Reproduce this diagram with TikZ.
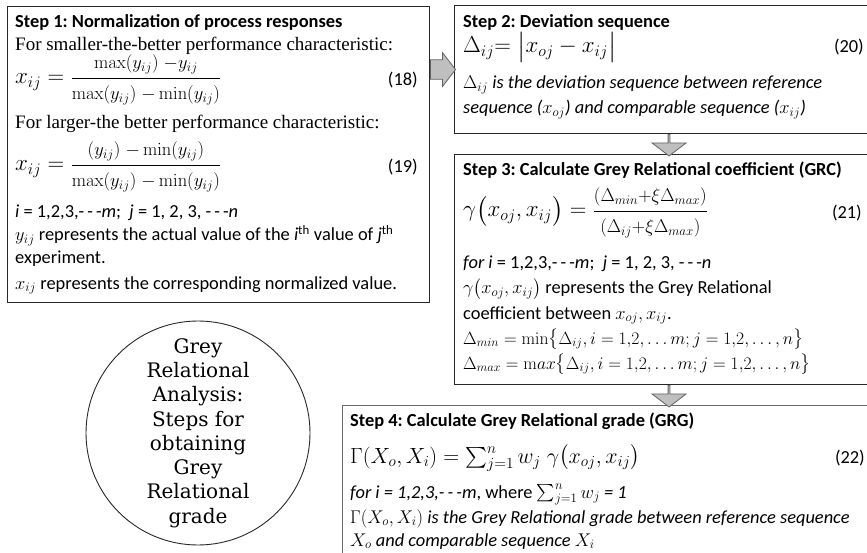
\RequirePackage{fix-cm}
\documentclass[tikz,border=0pt]{standalone}
\usepackage{amsmath}
\usepackage[no-math]{fontspec}
\setmainfont{Carlito}
\newfontfamily\serifface{Liberation Serif}
\newfontfamily\circfont{DejaVu Serif}
\usepackage{tikz}
\usetikzlibrary{positioning, calc, shapes.arrows}
\definecolor{ArrowGrey}{RGB}{191, 191, 191}
\definecolor{ArrowEdge}{RGB}{100, 100, 100}
\definecolor{BoxEdge}{RGB}{40, 40, 40}
\definecolor{BoxEdgeSoft}{RGB}{105, 105, 105}
\frenchspacing

\newcommand{\fracpart}[1]{\mbox{\fontsize{18.5}{22}\selectfont$#1$}}
\newcommand{\dashes}{-\,-\,-}

\tikzset{
  stepbox/.style={draw=BoxEdge, line width=1.1pt, anchor=north west, inner sep=0pt},
  linetext/.style={anchor=base west, inner sep=0pt, font=\fontsize{18.4}{22}\selectfont},
  titletext/.style={linetext, font=\fontsize{18.4}{22}\selectfont\bfseries},
  serifline/.style={linetext, font=\serifface\fontsize{19}{22}\selectfont},
  eqline/.style={linetext, font=\fontsize{23}{26}\selectfont},
  deltaline/.style={linetext, font=\fontsize{17.6}{22}\selectfont},
  eqnumber/.style={anchor=base east, inner sep=0pt, font=\fontsize{18.4}{22}\selectfont},
  blockarrow/.style={single arrow, draw=ArrowEdge, fill=ArrowGrey, line width=0.8pt,
    minimum width=34pt, single arrow head extend=7pt, inner xsep=0pt, inner ysep=9pt,
    single arrow tip angle=105}
}

\begin{document}
\begin{tikzpicture}[x=1pt, y=-1pt]
  \useasboundingbox (0,0) rectangle (867,553);

  % the four steps
  \node[stepbox, minimum width=422pt, minimum height=296pt] (step1) at (7,6) {};
  \node[stepbox, minimum width=418pt, minimum height=128pt] (step2) at (454,5) {};
  \node[stepbox, minimum width=418pt, minimum height=230pt] (step3) at (454,154) {};
  \node[stepbox, draw=BoxEdgeSoft, minimum width=530pt, minimum height=153pt] (step4) at (342,405) {};

  % step 1
  \node[titletext] (s1title) at (15,28) {Step 1: Normalization of process responses};
  \node[serifline] (s1small) at (15,51) {For smaller-the-better performance characteristic:};
  \node[eqline] (s1eqa) at (15,84)
    {$x_{ij} = \dfrac{\fracpart{\max(y_{ij})\;{-}y_{ij}}}{\fracpart{\max(y_{ij})\;{-}\min(y_{ij})}}$};
  \node[eqnumber] (s1numa) at (418,86) {(18)};
  \node[serifline] (s1large) at (15,129) {For larger-the better performance characteristic:};
  \node[eqline] (s1eqb) at (15,171)
    {$x_{ij} = \dfrac{\fracpart{(y_{ij})\;{-}\min(y_{ij})}}{\fracpart{\max(y_{ij})\;{-}\min(y_{ij})}}$};
  \node[eqnumber] (s1numb) at (418,173) {(19)};
  \node[linetext] (s1range) at (15,218)
    {\textit{i} = 1,2,3,\dashes\textit{m};\ \ \textit{j} = 1, 2, 3, \dashes\textit{n}};
  \node[linetext] (s1y) at (15,241)
    {$y_{ij}$ represents the actual value of the \textit{i}\textsuperscript{th} value of \textit{j}\textsuperscript{th}};
  \node[linetext] (s1exp) at (15,264) {experiment.};
  \node[linetext] (s1x) at (15,289) {$x_{ij}$ represents the corresponding normalized value.};

  % step 2
  \node[titletext] (s2title) at (463,28) {Step 2: Deviation sequence};
  \node[eqline] (s2eq) at (463,53) {$\Delta_{ij}{=}\;\bigl|x_{oj} - x_{ij}\bigr|$};
  \node[eqnumber] (s2num) at (864,53) {(20)};
  \node[linetext, font=\fontsize{18.4}{22}\selectfont\itshape] (s2a) at (463,89)
    {$\Delta_{ij}$ is the deviation sequence between reference};
  \node[linetext, font=\fontsize{18.4}{22}\selectfont\itshape] (s2b) at (463,114)
    {sequence ($x_{oj}$) and comparable sequence ($x_{ij}$)};

  % step 3
  \node[titletext] (s3title) at (463,176) {Step 3: Calculate Grey Relational coefficient (GRC)};
  \node[eqline] (s3eq) at (463,217)
    {$\gamma\bigl(x_{oj}, x_{ij}\bigr) = \dfrac{\fracpart{(\Delta_{min}{+}\xi\Delta_{max})}}{\fracpart{(\Delta_{ij}{+}\xi\Delta_{max})}}$};
  \node[eqnumber] (s3num) at (862,219) {(21)};
  \node[linetext] (s3range) at (463,269)
    {\textit{for i} = 1,2,3,\dashes\textit{m};\ \ \textit{j} = 1, 2, 3, \dashes\textit{n}};
  \node[linetext] (s3a) at (463,294) {$\gamma\bigl(x_{oj}, x_{ij}\bigr)$ represents the Grey Relational};
  \node[linetext] (s3b) at (463,319) {coefficient between $x_{oj}, x_{ij}$.};
  \node[deltaline] (s3min) at (463,344)
    {$\Delta_{min} = \min\bigl\{\Delta_{ij}, i = 1{,}2, \ldots m; j = 1{,}2, \ldots, n\bigr\}$};
  \node[deltaline] (s3max) at (463,369)
    {$\Delta_{max} = \mathrm{m}ax\bigl\{\Delta_{ij}, i = 1{,}2, \ldots m; j = 1{,}2, \ldots, n\bigr\}$};

  % step 4
  \node[titletext] (s4title) at (350,426) {Step 4: Calculate Grey Relational grade (GRG)};
  \node[eqline, font=\fontsize{22}{26}\selectfont] (s4eq) at (350,463)
    {$\Gamma(X_o, X_i) = \textstyle\sum_{j=1}^{n} w_j\;\gamma\bigl(x_{oj}, x_{ij}\bigr)$};
  \node[eqnumber] (s4num) at (865,463) {(22)};
  \node[linetext] (s4range) at (350,498)
    {\textit{for i = 1,2,3,\dashes m}, where $\textstyle\sum_{j=1}^{n} w_j$ \textit{= 1}};
  \node[linetext, font=\fontsize{18.4}{22}\selectfont\itshape] (s4a) at (350,523)
    {$\Gamma(X_o, X_i)$ is the Grey Relational grade between reference sequence};
  \node[linetext, font=\fontsize{18.4}{22}\selectfont\itshape] (s4b) at (350,546)
    {$X_o$ and comparable sequence $X_i$};

  % title of the analysis
  \node[circle, draw=BoxEdge, line width=0.9pt, minimum size=224pt, inner sep=0pt,
    align=center, font={\circfont\fontsize{20}{24.3}\selectfont}] (gra) at (198,433)
    {Grey\\Relational\\Analysis:\\Steps for\\obtaining\\Grey\\Relational\\grade};

  % block arrows between the steps
  \node[blockarrow, minimum height=25pt, anchor=tail] (arr12) at (step1.east |- step2.west) {};
  \node[blockarrow, shape border rotate=270, inner ysep=10pt, minimum height=21pt, anchor=tail]
    (arr23) at ([xshift=5.5pt]step2.south) {};
  \node[blockarrow, shape border rotate=270, inner ysep=10pt, minimum height=21pt, anchor=tail]
    (arr34) at ([xshift=5.5pt]step3.south) {};
\end{tikzpicture}
\end{document}
